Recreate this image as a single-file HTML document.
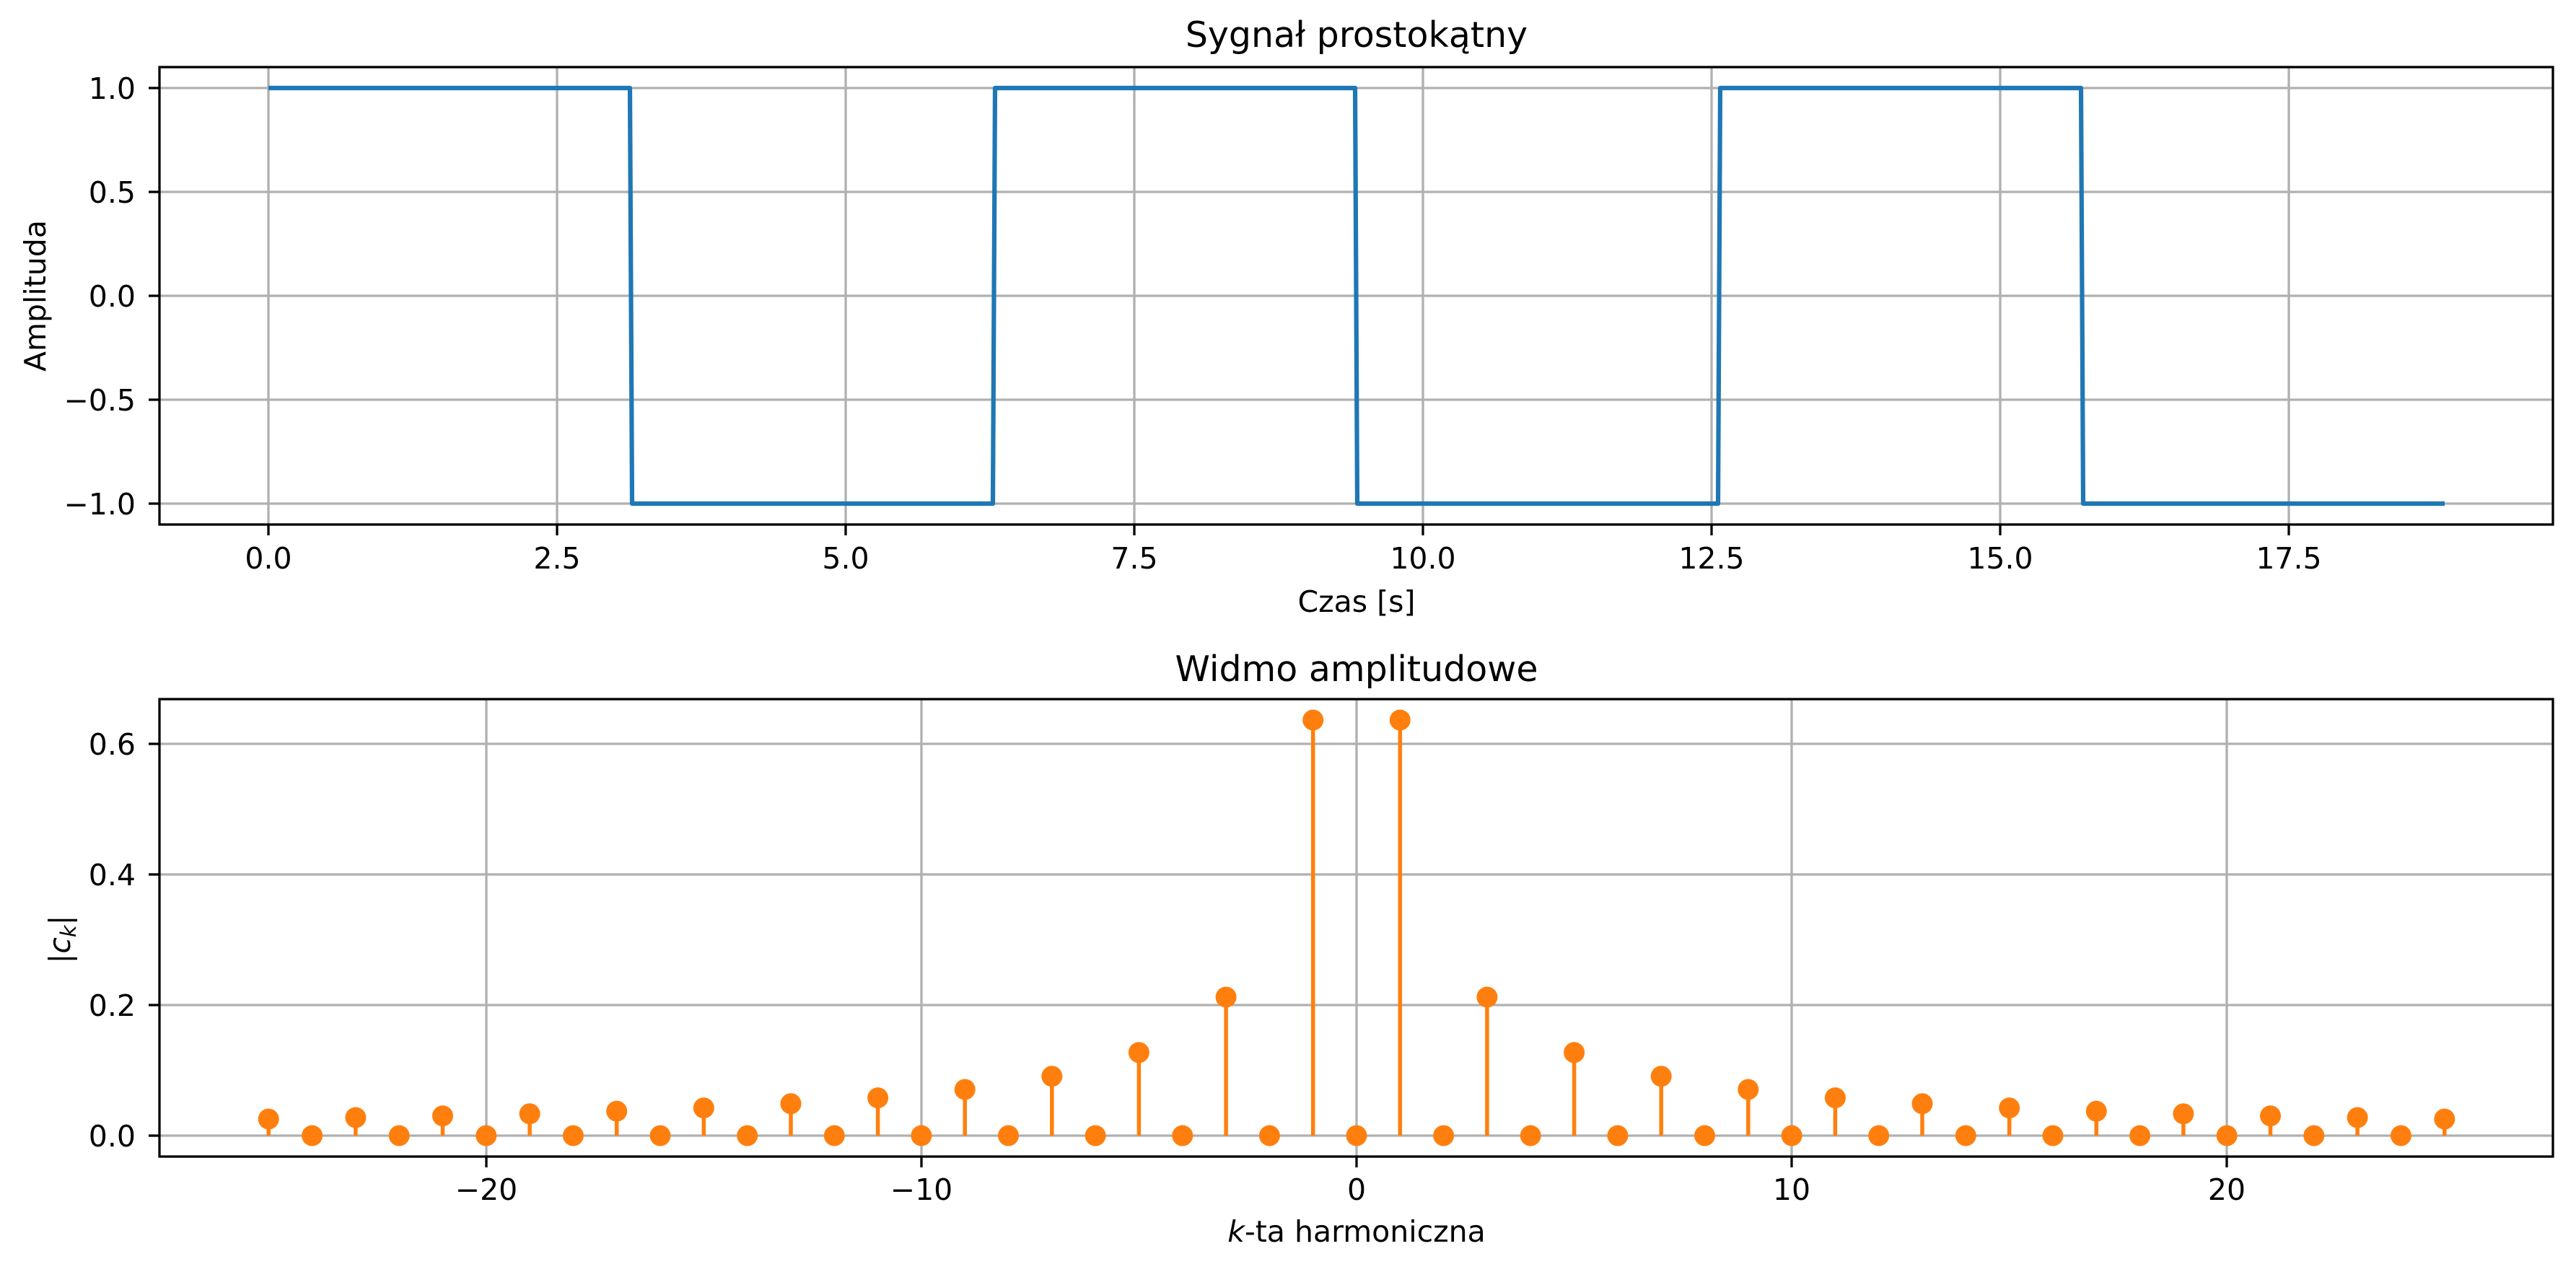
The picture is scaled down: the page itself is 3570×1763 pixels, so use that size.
<!DOCTYPE html>
<html><head><meta charset="utf-8"><style>
html,body{margin:0;padding:0;background:#fff;}
svg{display:block;}
text{font-family:"DejaVu Sans","Liberation Sans",sans-serif;fill:#000;}
</style></head><body>
<svg width="3570" height="1763" viewBox="0 0 3570 1763" xmlns="http://www.w3.org/2000/svg">
<rect width="3570" height="1763" fill="#fff"/>
<!-- TOP AXES -->
<g stroke="#b0b0b0" stroke-width="3.3">
<line x1="372" y1="93" x2="372" y2="727"/><line x1="772" y1="93" x2="772" y2="727"/><line x1="1172" y1="93" x2="1172" y2="727"/><line x1="1572" y1="93" x2="1572" y2="727"/><line x1="1972" y1="93" x2="1972" y2="727"/><line x1="2372" y1="93" x2="2372" y2="727"/><line x1="2772" y1="93" x2="2772" y2="727"/><line x1="3172" y1="93" x2="3172" y2="727"/>
<line x1="221" y1="122" x2="3538" y2="122"/><line x1="221" y1="266" x2="3538" y2="266"/><line x1="221" y1="410" x2="3538" y2="410"/><line x1="221" y1="554" x2="3538" y2="554"/><line x1="221" y1="698" x2="3538" y2="698"/>
</g>
<polyline fill="none" stroke="#1f77b4" stroke-width="6.2" stroke-linejoin="round" points="372,122 873,122 876,698 1376,698 1379,122 1878,122 1881,698 2381,698 2384,122 2884,122 2887,698 3388,698"/>
<rect x="221" y="93" width="3317" height="634" fill="none" stroke="#000" stroke-width="3.3"/>
<g stroke="#000" stroke-width="3.3">
<line x1="372" y1="727" x2="372" y2="742"/><line x1="772" y1="727" x2="772" y2="742"/><line x1="1172" y1="727" x2="1172" y2="742"/><line x1="1572" y1="727" x2="1572" y2="742"/><line x1="1972" y1="727" x2="1972" y2="742"/><line x1="2372" y1="727" x2="2372" y2="742"/><line x1="2772" y1="727" x2="2772" y2="742"/><line x1="3172" y1="727" x2="3172" y2="742"/>
<line x1="206" y1="122" x2="221" y2="122"/><line x1="206" y1="266" x2="221" y2="266"/><line x1="206" y1="410" x2="221" y2="410"/><line x1="206" y1="554" x2="221" y2="554"/><line x1="206" y1="698" x2="221" y2="698"/>
</g>
<g font-size="41" text-anchor="middle">
<text x="372" y="788">0.0</text><text x="772" y="788">2.5</text><text x="1172" y="788">5.0</text><text x="1572" y="788">7.5</text><text x="1972" y="788">10.0</text><text x="2372" y="788">12.5</text><text x="2772" y="788">15.0</text><text x="3172" y="788">17.5</text>
</g>
<g font-size="41" text-anchor="end">
<text x="188" y="137">1.0</text><text x="188" y="281">0.5</text><text x="188" y="425">0.0</text><text x="188" y="569">−0.5</text><text x="188" y="713">−1.0</text>
</g>
<text x="1880" y="848" font-size="41" text-anchor="middle">Czas [s]</text>
<text x="1880" y="65" font-size="49" text-anchor="middle">Sygnał prostokątny</text>
<text transform="translate(63,410) rotate(-90)" font-size="41" text-anchor="middle">Amplituda</text>

<!-- BOTTOM AXES -->
<g stroke="#b0b0b0" stroke-width="3.3">
<line x1="674" y1="969" x2="674" y2="1603"/><line x1="1277" y1="969" x2="1277" y2="1603"/><line x1="1880" y1="969" x2="1880" y2="1603"/><line x1="2483" y1="969" x2="2483" y2="1603"/><line x1="3086" y1="969" x2="3086" y2="1603"/>
<line x1="221" y1="1574" x2="3538" y2="1574"/><line x1="221" y1="1393" x2="3538" y2="1393"/><line x1="221" y1="1212" x2="3538" y2="1212"/><line x1="221" y1="1031" x2="3538" y2="1031"/>
</g>
<g transform="translate(1880,0)" stroke="#ff7f0e" stroke-width="5.5">
<line x1="60.3" y1="1574" x2="60.3" y2="998"/><line x1="-60.3" y1="1574" x2="-60.3" y2="998"/>
<line x1="180.9" y1="1574" x2="180.9" y2="1382"/><line x1="-180.9" y1="1574" x2="-180.9" y2="1382"/>
<line x1="301.6" y1="1574" x2="301.6" y2="1458.8"/><line x1="-301.6" y1="1574" x2="-301.6" y2="1458.8"/>
<line x1="422.2" y1="1574" x2="422.2" y2="1491.7"/><line x1="-422.2" y1="1574" x2="-422.2" y2="1491.7"/>
<line x1="542.8" y1="1574" x2="542.8" y2="1510"/><line x1="-542.8" y1="1574" x2="-542.8" y2="1510"/>
<line x1="663.4" y1="1574" x2="663.4" y2="1521.6"/><line x1="-663.4" y1="1574" x2="-663.4" y2="1521.6"/>
<line x1="784" y1="1574" x2="784" y2="1529.7"/><line x1="-784" y1="1574" x2="-784" y2="1529.7"/>
<line x1="904.7" y1="1574" x2="904.7" y2="1535.6"/><line x1="-904.7" y1="1574" x2="-904.7" y2="1535.6"/>
<line x1="1025.3" y1="1574" x2="1025.3" y2="1540.1"/><line x1="-1025.3" y1="1574" x2="-1025.3" y2="1540.1"/>
<line x1="1145.9" y1="1574" x2="1145.9" y2="1543.7"/><line x1="-1145.9" y1="1574" x2="-1145.9" y2="1543.7"/>
<line x1="1266.5" y1="1574" x2="1266.5" y2="1546.6"/><line x1="-1266.5" y1="1574" x2="-1266.5" y2="1546.6"/>
<line x1="1387.1" y1="1574" x2="1387.1" y2="1549"/><line x1="-1387.1" y1="1574" x2="-1387.1" y2="1549"/>
<line x1="1507.8" y1="1574" x2="1507.8" y2="1551"/><line x1="-1507.8" y1="1574" x2="-1507.8" y2="1551"/>
</g>
<g transform="translate(1880,0)" fill="#ff7f0e">
<circle cx="0" cy="1574" r="14.5"/>
<circle cx="60.3" cy="998" r="14.5"/><circle cx="-60.3" cy="998" r="14.5"/>
<circle cx="180.9" cy="1382" r="14.5"/><circle cx="-180.9" cy="1382" r="14.5"/>
<circle cx="301.6" cy="1458.8" r="14.5"/><circle cx="-301.6" cy="1458.8" r="14.5"/>
<circle cx="422.2" cy="1491.7" r="14.5"/><circle cx="-422.2" cy="1491.7" r="14.5"/>
<circle cx="542.8" cy="1510" r="14.5"/><circle cx="-542.8" cy="1510" r="14.5"/>
<circle cx="663.4" cy="1521.6" r="14.5"/><circle cx="-663.4" cy="1521.6" r="14.5"/>
<circle cx="784" cy="1529.7" r="14.5"/><circle cx="-784" cy="1529.7" r="14.5"/>
<circle cx="904.7" cy="1535.6" r="14.5"/><circle cx="-904.7" cy="1535.6" r="14.5"/>
<circle cx="1025.3" cy="1540.1" r="14.5"/><circle cx="-1025.3" cy="1540.1" r="14.5"/>
<circle cx="1145.9" cy="1543.7" r="14.5"/><circle cx="-1145.9" cy="1543.7" r="14.5"/>
<circle cx="1266.5" cy="1546.6" r="14.5"/><circle cx="-1266.5" cy="1546.6" r="14.5"/>
<circle cx="1387.1" cy="1549" r="14.5"/><circle cx="-1387.1" cy="1549" r="14.5"/>
<circle cx="1507.8" cy="1551" r="14.5"/><circle cx="-1507.8" cy="1551" r="14.5"/>
<circle cx="120.6" cy="1574" r="14.5"/><circle cx="-120.6" cy="1574" r="14.5"/>
<circle cx="241.2" cy="1574" r="14.5"/><circle cx="-241.2" cy="1574" r="14.5"/>
<circle cx="361.9" cy="1574" r="14.5"/><circle cx="-361.9" cy="1574" r="14.5"/>
<circle cx="482.5" cy="1574" r="14.5"/><circle cx="-482.5" cy="1574" r="14.5"/>
<circle cx="603.1" cy="1574" r="14.5"/><circle cx="-603.1" cy="1574" r="14.5"/>
<circle cx="723.7" cy="1574" r="14.5"/><circle cx="-723.7" cy="1574" r="14.5"/>
<circle cx="844.3" cy="1574" r="14.5"/><circle cx="-844.3" cy="1574" r="14.5"/>
<circle cx="965" cy="1574" r="14.5"/><circle cx="-965" cy="1574" r="14.5"/>
<circle cx="1085.6" cy="1574" r="14.5"/><circle cx="-1085.6" cy="1574" r="14.5"/>
<circle cx="1206.2" cy="1574" r="14.5"/><circle cx="-1206.2" cy="1574" r="14.5"/>
<circle cx="1326.8" cy="1574" r="14.5"/><circle cx="-1326.8" cy="1574" r="14.5"/>
<circle cx="1447.4" cy="1574" r="14.5"/><circle cx="-1447.4" cy="1574" r="14.5"/>
</g>
<rect x="221" y="969" width="3317" height="634" fill="none" stroke="#000" stroke-width="3.3"/>
<g stroke="#000" stroke-width="3.3">
<line x1="674" y1="1603" x2="674" y2="1618"/><line x1="1277" y1="1603" x2="1277" y2="1618"/><line x1="1880" y1="1603" x2="1880" y2="1618"/><line x1="2483" y1="1603" x2="2483" y2="1618"/><line x1="3086" y1="1603" x2="3086" y2="1618"/>
<line x1="206" y1="1574" x2="221" y2="1574"/><line x1="206" y1="1393" x2="221" y2="1393"/><line x1="206" y1="1212" x2="221" y2="1212"/><line x1="206" y1="1031" x2="221" y2="1031"/>
</g>
<g font-size="41" text-anchor="middle">
<text x="674" y="1663">−20</text><text x="1277" y="1663">−10</text><text x="1880" y="1663">0</text><text x="2483" y="1663">10</text><text x="3086" y="1663">20</text>
</g>
<g font-size="41" text-anchor="end">
<text x="188" y="1589">0.0</text><text x="188" y="1408">0.2</text><text x="188" y="1227">0.4</text><text x="188" y="1046">0.6</text>
</g>
<text x="1880" y="1721" font-size="41" text-anchor="middle"><tspan font-style="italic">k</tspan>-ta harmoniczna</text>
<text x="1880" y="944" font-size="49" text-anchor="middle">Widmo amplitudowe</text>
<text transform="translate(97,1302) rotate(-90)" font-size="41" text-anchor="middle">|<tspan font-style="italic">c</tspan><tspan font-style="italic" font-size="29" dy="8">k</tspan><tspan dy="-8">|</tspan></text>
</svg>
</body></html>
